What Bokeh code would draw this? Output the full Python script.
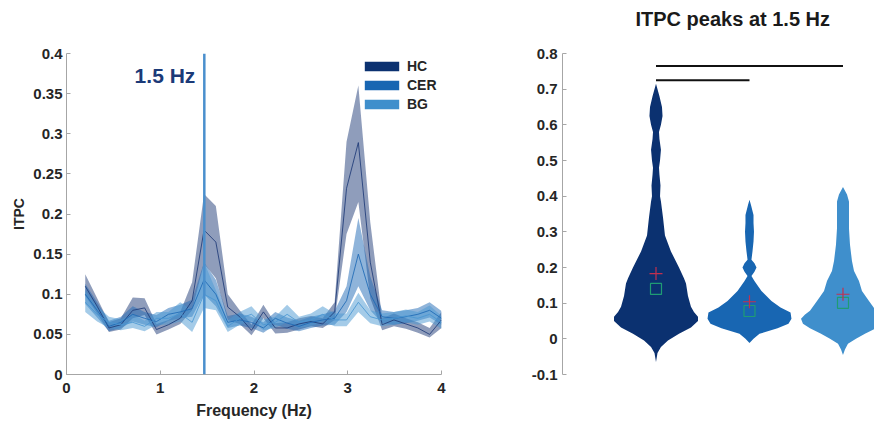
from bokeh.plotting import figure
from bokeh.models import Span, Label, Legend, LegendItem, FixedTicker, Range1d
from bokeh.layouts import row
from bokeh.embed import file_html
from bokeh.resources import INLINE

FONT = "Liberation Sans"

# ---------------- data: left panel (ITPC spectrum) ----------------
groups = ["HC", "CER", "BG"]
freqs = [0.2, 0.327, 0.453, 0.58, 0.707, 0.833, 0.96, 1.087, 1.213, 1.34, 1.467,
         1.593, 1.72, 1.847, 1.973, 2.1, 2.227, 2.353, 2.48, 2.607, 2.733, 2.86,
         2.987, 3.113, 3.24, 3.367, 3.493, 3.62, 3.747, 3.873, 4.0]

hc_mean = [0.110, 0.085, 0.058, 0.062, 0.080, 0.083, 0.056, 0.062, 0.070, 0.092, 0.180,
           0.165, 0.084, 0.072, 0.055, 0.078, 0.058, 0.058, 0.063, 0.066, 0.063, 0.078,
           0.232, 0.289, 0.140, 0.062, 0.068, 0.063, 0.058, 0.050, 0.068]
hc_lo = [0.098, 0.076, 0.053, 0.056, 0.070, 0.074, 0.050, 0.056, 0.063, 0.080, 0.138,
         0.120, 0.068, 0.063, 0.049, 0.070, 0.051, 0.052, 0.056, 0.060, 0.058, 0.068,
         0.175, 0.215, 0.095, 0.055, 0.060, 0.057, 0.052, 0.046, 0.058]
hc_hi = [0.125, 0.095, 0.065, 0.070, 0.096, 0.095, 0.063, 0.068, 0.078, 0.115, 0.225,
         0.210, 0.100, 0.080, 0.062, 0.087, 0.064, 0.065, 0.070, 0.073, 0.070, 0.090,
         0.290, 0.360, 0.190, 0.070, 0.076, 0.070, 0.065, 0.058, 0.078]

cer_mean = [0.100, 0.080, 0.060, 0.065, 0.075, 0.070, 0.066, 0.075, 0.078, 0.082, 0.118,
            0.100, 0.065, 0.068, 0.065, 0.058, 0.070, 0.064, 0.060, 0.065, 0.068, 0.070,
            0.092, 0.150, 0.100, 0.072, 0.070, 0.072, 0.075, 0.080, 0.070]
cer_lo = [0.088, 0.071, 0.054, 0.058, 0.066, 0.062, 0.059, 0.067, 0.070, 0.072, 0.100,
          0.085, 0.058, 0.061, 0.058, 0.052, 0.062, 0.057, 0.054, 0.058, 0.061, 0.062,
          0.078, 0.110, 0.080, 0.064, 0.062, 0.064, 0.067, 0.071, 0.062]
cer_hi = [0.113, 0.090, 0.067, 0.072, 0.085, 0.078, 0.074, 0.083, 0.087, 0.093, 0.140,
          0.118, 0.073, 0.076, 0.072, 0.065, 0.078, 0.071, 0.067, 0.072, 0.075, 0.079,
          0.110, 0.195, 0.122, 0.080, 0.078, 0.080, 0.083, 0.090, 0.079]

bg_mean = [0.090, 0.075, 0.065, 0.062, 0.065, 0.060, 0.070, 0.070, 0.076, 0.065, 0.100,
           0.092, 0.060, 0.070, 0.075, 0.062, 0.065, 0.075, 0.065, 0.068, 0.075, 0.068,
           0.068, 0.090, 0.072, 0.068, 0.070, 0.073, 0.070, 0.075, 0.065]
bg_lo = [0.078, 0.066, 0.058, 0.055, 0.058, 0.054, 0.062, 0.062, 0.066, 0.053, 0.083,
         0.080, 0.053, 0.062, 0.067, 0.055, 0.058, 0.065, 0.058, 0.060, 0.066, 0.060,
         0.060, 0.078, 0.064, 0.060, 0.062, 0.065, 0.062, 0.066, 0.057]
bg_hi = [0.105, 0.085, 0.072, 0.069, 0.075, 0.067, 0.078, 0.078, 0.090, 0.080, 0.140,
         0.105, 0.068, 0.078, 0.085, 0.069, 0.072, 0.087, 0.072, 0.076, 0.085, 0.076,
         0.076, 0.102, 0.080, 0.076, 0.078, 0.081, 0.078, 0.086, 0.073]

peak_freq = 1.47
peak_label = "1.5 Hz"

left_xticks = [0, 1, 2, 3, 4]
left_yticks = [0, 0.05, 0.1, 0.15, 0.2, 0.25, 0.3, 0.35, 0.4]
left_ytick_labels = ["0", "0.05", "0.1", "0.15", "0.2", "0.25", "0.3", "0.35", "0.4"]

# ---------------- data: right panel (violins) ----------------
positions = [1, 2, 3]
hc_levels = [-0.065, -0.04, -0.023, -0.005, 0.014, 0.032, 0.05, 0.062, 0.075, 0.09, 0.12,
             0.155, 0.17, 0.2, 0.245, 0.29, 0.34, 0.385, 0.40, 0.43, 0.46, 0.48, 0.50,
             0.53, 0.56, 0.58, 0.60, 0.625, 0.65, 0.68, 0.715]
hc_width = [0, 0.016, 0.053, 0.128, 0.246, 0.374, 0.449, 0.449, 0.406, 0.374, 0.342,
            0.321, 0.299, 0.246, 0.16, 0.096, 0.075, 0.053, 0.043, 0.048, 0.037, 0.032,
            0.043, 0.053, 0.037, 0.032, 0.053, 0.07, 0.064, 0.037, 0]
cer_levels = [-0.012, 0.0, 0.014, 0.03, 0.042, 0.056, 0.074, 0.088, 0.106, 0.134, 0.162,
              0.176, 0.188, 0.2, 0.212, 0.222, 0.245, 0.273, 0.3, 0.325, 0.347, 0.375, 0.39]
cer_width = [0, 0.043, 0.107, 0.3, 0.417, 0.449, 0.439, 0.332, 0.235, 0.128, 0.053,
             0.021, 0.053, 0.075, 0.053, 0.021, 0.032, 0.043, 0.048, 0.043, 0.043, 0.016, 0]
bg_levels = [-0.045, -0.03, -0.014, 0.0, 0.014, 0.03, 0.042, 0.056, 0.068, 0.079, 0.106,
             0.134, 0.162, 0.19, 0.218, 0.264, 0.31, 0.356, 0.385, 0.405, 0.426]
bg_width = [0, 0.021, 0.053, 0.139, 0.235, 0.353, 0.428, 0.449, 0.406, 0.353, 0.278,
            0.203, 0.171, 0.118, 0.096, 0.075, 0.064, 0.064, 0.064, 0.043, 0]

group_means = [0.183, 0.104, 0.125]
group_medians = [0.140, 0.078, 0.101]

sig_from = [1, 1]
sig_to = [3, 2]
sig_height = [0.765, 0.725]

right_yticks = [-0.1, 0, 0.1, 0.2, 0.3, 0.4, 0.5, 0.6, 0.7, 0.8]
right_ytick_labels = ["-0.1", "0", "0.1", "0.2", "0.3", "0.4", "0.5", "0.6", "0.7", "0.8"]
right_title = "ITPC peaks at 1.5 Hz"

# ---------------- style ----------------
colors = ["#0b3170", "#1866b2", "#3f8fcc"]
band_colors = ["#1f3b78", "#1f6ab5", "#4a97d2"]
AXIS_GRAY = "#a6a6a6"
TEXT = "#262626"


def style_axis(ax, size="15px"):
    ax.axis_line_color = AXIS_GRAY
    ax.major_tick_line_color = AXIS_GRAY
    ax.minor_tick_line_color = None
    ax.major_tick_in = 4
    ax.major_tick_out = 0
    ax.major_label_text_font = FONT
    ax.major_label_text_font_style = "bold"
    ax.major_label_text_font_size = size
    ax.major_label_text_color = TEXT
    ax.axis_label_text_font = FONT
    ax.axis_label_text_font_style = "bold"
    ax.axis_label_text_color = TEXT


# ---------------- left figure ----------------
p1 = figure(width=480, height=421, title=None,
            x_range=Range1d(0, 4), y_range=Range1d(0, 0.4),
            output_backend="svg", toolbar_location=None,
            min_border_left=66, min_border_right=39,
            min_border_top=52, min_border_bottom=47)
p1.outline_line_color = None
p1.grid.visible = False
p1.background_fill_color = "white"

series = [(hc_mean, hc_lo, hc_hi), (cer_mean, cer_lo, cer_hi), (bg_mean, bg_lo, bg_hi)]
for (m, lo, hi), bc in zip(series, band_colors):
    p1.varea(x=freqs, y1=lo, y2=hi, fill_color=bc, fill_alpha=0.5)
for (m, lo, hi), bc in zip(series, band_colors):
    p1.line(x=freqs, y=m, line_color=bc, line_width=1, line_alpha=0.85)

p1.add_layout(Span(location=peak_freq, dimension="height",
                   line_color="#4a8fcd", line_width=2.5))
p1.add_layout(Label(x=peak_freq, y=0.373, x_offset=-9, text=peak_label,
                    text_align="right", text_baseline="middle",
                    text_font=FONT, text_font_size="21px", text_font_style="bold",
                    text_color="#1b3a78"))

# legend with solid swatches (zero-height areas: invisible in plot, solid in legend)
legend_items = []
for g, c, (m, lo, hi) in zip(groups, colors, series):
    r = p1.varea(x=freqs, y1=lo, y2=lo, fill_color=c, fill_alpha=1)
    legend_items.append(LegendItem(label=g, renderers=[r]))
legend = Legend(items=legend_items, location=(294, 262),
                glyph_width=43, glyph_height=12, label_height=12,
                spacing=3, padding=0, margin=0, label_standoff=4,
                label_text_font=FONT, label_text_font_style="bold",
                label_text_font_size="14px", label_text_color=TEXT,
                border_line_alpha=0, background_fill_alpha=0)
p1.add_layout(legend)

p1.xaxis.ticker = FixedTicker(ticks=left_xticks)
p1.yaxis.ticker = FixedTicker(ticks=left_yticks)
p1.yaxis.major_label_overrides = {t: s for t, s in zip(left_yticks, left_ytick_labels)}
style_axis(p1.xaxis[0])
style_axis(p1.yaxis[0])
p1.xaxis.axis_label = "Frequency (Hz)"
p1.xaxis.axis_label_text_font_size = "16px"
p1.xaxis.major_label_standoff = 8
p1.xaxis.axis_label_standoff = 6
p1.yaxis.axis_label = "ITPC"
p1.yaxis.axis_label_text_font_size = "14px"
p1.yaxis.major_label_standoff = 4
p1.yaxis.axis_label_standoff = 3

# ---------------- right figure ----------------
p2 = figure(width=394, height=421, title=right_title,
            x_range=Range1d(0, 3.337), y_range=Range1d(-0.1, 0.8),
            output_backend="svg", toolbar_location=None,
            min_border_left=82, min_border_right=0,
            min_border_top=53, min_border_bottom=47)
p2.outline_line_color = None
p2.grid.visible = False
p2.xaxis.visible = False

p2.title.align = "left"
p2.title.offset = 73
p2.title.padding = dict(left=0, right=0, top=0, bottom=19)
p2.title.text_font = FONT
p2.title.text_font_size = "20px"
p2.title.text_font_style = "bold"
p2.title.text_color = "#1a1a1a"

violins = [(hc_levels, hc_width), (cer_levels, cer_width), (bg_levels, bg_width)]
for pos, (lv, wd), c in zip(positions, violins, colors):
    p2.harea(y=lv, x1=[pos - w for w in wd], x2=[pos + w for w in wd],
             fill_color=c, fill_alpha=1)

p2.scatter(x=positions, y=group_medians, marker="square", size=11,
           fill_alpha=0, line_color="#1f9c74", line_width=1.2)
p2.scatter(x=positions, y=group_means, marker="cross", size=13,
           line_color="#c2304f", line_width=1.2)

p2.segment(x0=sig_from, x1=sig_to, y0=sig_height, y1=sig_height,
           line_color="#111111", line_width=2)

p2.yaxis.ticker = FixedTicker(ticks=right_yticks)
p2.yaxis.major_label_overrides = {t: s for t, s in zip(right_yticks, right_ytick_labels)}
style_axis(p2.yaxis[0])
p2.yaxis.major_label_standoff = 5

layout = row(p1, p2)
open("out.html", "w").write(file_html(layout, INLINE))
